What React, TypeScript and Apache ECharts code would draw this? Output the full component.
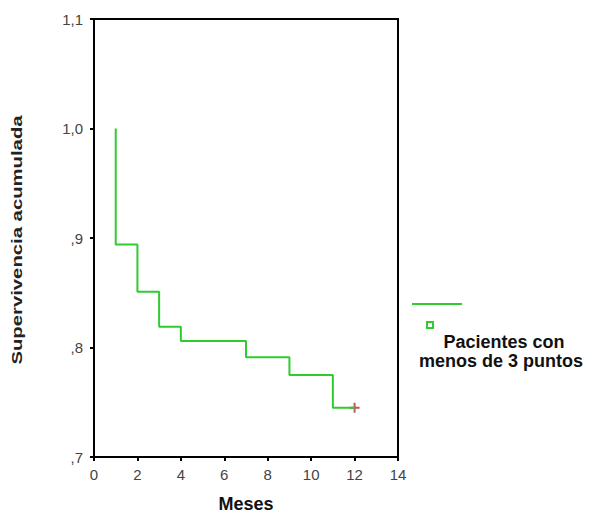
import React, { useEffect, useRef } from "react";
import * as echarts from "echarts";

const eventTimes = [1, 2, 3, 4, 7, 9, 11];
const survival = [1.0, 0.894, 0.851, 0.819, 0.806, 0.791, 0.775, 0.745];
const censorTimes = [12];
const censorValues = [0.745];
const yTickLabels: Record<string, string> = { "0.7": ",7", "0.8": ",8", "0.9": ",9", "1": "1,0", "1.1": "1,1" };
const legendLines = ["Pacientes con", "menos de 3 puntos"];
const xTitle = "Meses";
const yTitle = "Supervivencia acumulada";

export default function App() {
  const ref = useRef<HTMLDivElement>(null);
  useEffect(() => {
    const chart = echarts.init(ref.current!, null, { renderer: "svg" });
    const pts: number[][] = [[eventTimes[0], survival[0]]];
    for (let i = 0; i < eventTimes.length; i++) {
      pts.push([eventTimes[i], survival[i + 1]]);
      const nextT = i + 1 < eventTimes.length ? eventTimes[i + 1] : censorTimes[censorTimes.length - 1];
      pts.push([nextT, survival[i + 1]]);
    }
    const font = "Liberation Sans, Arial, sans-serif";
    chart.setOption({
      animation: false,
      backgroundColor: "#fff",
      grid: { left: 94, right: 197, top: 19, bottom: 54, show: true, borderColor: "#000", borderWidth: 2, backgroundColor: "transparent" },
      xAxis: {
        type: "value", min: 0, max: 14, interval: 2,
        axisLine: { lineStyle: { color: "#000", width: 2 } },
        axisTick: { show: true, length: 4, lineStyle: { color: "#000", width: 2 } },
        axisLabel: { color: "#444", fontFamily: font, fontSize: 15, margin: 10 },
        splitLine: { show: false },
        name: xTitle, nameLocation: "middle", nameGap: 38,
        nameTextStyle: { color: "#111", fontFamily: font, fontSize: 18, fontWeight: "bold" },
      },
      yAxis: {
        type: "value", min: 0.7, max: 1.1, interval: 0.1,
        axisLine: { show: true, lineStyle: { color: "#000", width: 2 } },
        axisTick: { show: true, length: 4, lineStyle: { color: "#000", width: 2 } },
        axisLabel: {
          color: "#444", fontFamily: font, fontSize: 15, margin: 11,
          formatter: (v: number) => yTickLabels[String(Math.round(v * 10) / 10)] ?? "",
        },
        splitLine: { show: false },
      },
      series: [
        {
          type: "line", data: pts, symbol: "none",
          lineStyle: { color: "#2ecc2e", width: 2 },
        },
        {
          type: "scatter",
          data: censorTimes.map((t, i) => [t, censorValues[i]]),
          symbol: "path://M5,0 L5,10 M0,5 L10,5",
          symbolSize: 10,
          itemStyle: { color: "none", borderColor: "#b03030", borderWidth: 2 },
        },
      ],
      graphic: [
        {
          type: "text", x: 17, y: 240, rotation: Math.PI / 2, scaleX: 1.45, scaleY: 1,
          style: { text: yTitle, fill: "#222", font: "bold 14px " + font, textAlign: "center", textVerticalAlign: "middle" },
        },
        { type: "line", shape: { x1: 412, y1: 304, x2: 462, y2: 304 }, style: { stroke: "#2ecc2e", lineWidth: 2 } },
        { type: "rect", shape: { x: 427, y: 322, width: 6, height: 6 }, style: { fill: "#fff", stroke: "#2ecc2e", lineWidth: 2 } },
        { type: "text", x: 504, y: 342, style: { text: legendLines[0], fill: "#111", font: "bold 18px " + font, textAlign: "center", textVerticalAlign: "middle" } },
        { type: "text", x: 501, y: 361, style: { text: legendLines[1], fill: "#111", font: "bold 18px " + font, textAlign: "center", textVerticalAlign: "middle" } },
      ],
    });
    return () => chart.dispose();
  }, []);
  return <div ref={ref} style={{ position: "fixed", left: 0, top: 0, width: 595, height: 518 }} />;
}
